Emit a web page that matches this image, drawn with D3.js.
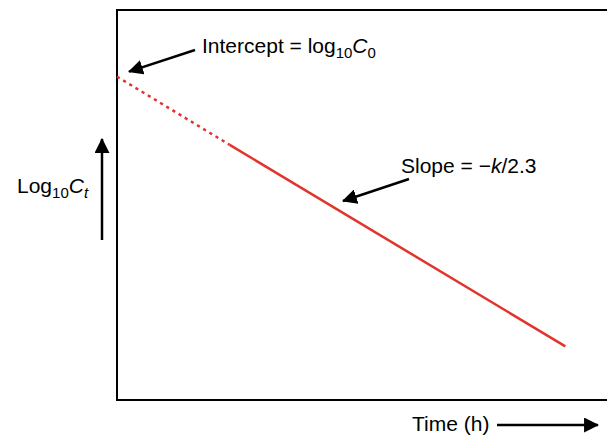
<!DOCTYPE html>
<html lang="en">
<head>
<meta charset="UTF-8">
<script src="https://cdn.jsdelivr.net/npm/d3@7"></script>
<style>
body {
    margin: 0;
    background: #fff;
    font-family: "Liberation Sans", Arial, Helvetica, sans-serif;
}
.frame {
    fill: none;
    stroke: #000;
    stroke-width: 2px;
}
.fit-dotted {
    fill: none;
    stroke: #e3342b;
    stroke-width: 2.5px;
    stroke-dasharray: 3.2, 4;
}
.fit-solid {
    fill: none;
    stroke: #e3342b;
    stroke-width: 2.5px;
}
.arrow {
    stroke: #000;
    stroke-width: 2.5px;
}
text {
    font-size: 21px;
    fill: #000;
}
</style>
</head>
<body>
<div id="chart"></div>
<script>
// time (h) and log10 C values
const timeExtrap = [0, 2.3];       // dotted back-extrapolation to t = 0
const logExtrap = [1.99, 1.57];
const timeObs = [2.3, 9.15];       // solid part of the line
const logObs = [1.57, 0.33];

const W = 607, H = 435;
const margin = {top: 10, right: 0, bottom: 35, left: 117};

const x = d3.scaleLinear().domain([0, 10]).range([margin.left, W - margin.right]);
const y = d3.scaleLinear().domain([0, 2.4]).range([H - margin.bottom, margin.top]);

const svg = d3.select("#chart").append("svg")
    .attr("width", W)
    .attr("height", H);

const defs = svg.append("defs");
defs.append("marker")
    .attr("id", "head")
    .attr("viewBox", "0 0 14 14")
    .attr("refX", 13)
    .attr("refY", 7)
    .attr("markerUnits", "userSpaceOnUse")
    .attr("markerWidth", 15)
    .attr("markerHeight", 15)
    .attr("orient", "auto")
    .append("path")
    .attr("d", "M0,0 L14,7 L0,14 Z")
    .attr("fill", "#000");

// frame: top, left and bottom sides only
const [x0, x1] = x.range();
const [yb, yt] = y.range();
svg.append("path")
    .attr("class", "frame")
    .attr("d", `M${x1},${yt} H${x0} V${yb} H${x1}`);

const line = d3.line().x(d => x(d[0])).y(d => y(d[1]));

svg.append("path")
    .attr("class", "fit-dotted")
    .attr("d", line(d3.zip(timeExtrap, logExtrap)));

svg.append("path")
    .attr("class", "fit-solid")
    .attr("d", line(d3.zip(timeObs, logObs)));

// Intercept annotation
svg.append("line")
    .attr("class", "arrow")
    .attr("x1", 195).attr("y1", 50)
    .attr("x2", x(0) + 12).attr("y2", y(logExtrap[0]) - 5)
    .attr("marker-end", "url(#head)");

const t1 = svg.append("text").attr("x", 202).attr("y", 53);
t1.append("tspan").text("Intercept = log");
t1.append("tspan").attr("dy", 5).style("font-size", "15px").text("10");
t1.append("tspan").attr("dy", -5).style("font-style", "italic").text("C");
t1.append("tspan").attr("dy", 5).style("font-size", "15px").text("0");

// Slope annotation
svg.append("line")
    .attr("class", "arrow")
    .attr("x1", 409).attr("y1", 179)
    .attr("x2", 343).attr("y2", 201)
    .attr("marker-end", "url(#head)");

const t2 = svg.append("text").attr("x", 401).attr("y", 173);
t2.append("tspan").text("Slope = \u2212");
t2.append("tspan").style("font-style", "italic").text("k");
t2.append("tspan").text("/2.3");

// y label with upward arrow
const t3 = svg.append("text").attr("x", 17).attr("y", 193);
t3.append("tspan").text("Log");
t3.append("tspan").attr("dy", 5).style("font-size", "15px").text("10");
t3.append("tspan").attr("dy", -5).style("font-style", "italic").text("C");
t3.append("tspan").attr("dy", 5).style("font-size", "15px").style("font-style", "italic").text("t");

svg.append("line")
    .attr("class", "arrow")
    .attr("x1", 102).attr("y1", 240)
    .attr("x2", 102).attr("y2", 139)
    .attr("marker-end", "url(#head)");

// x label with right arrow
svg.append("text")
    .attr("x", 412).attr("y", 431)
    .text("Time (h)");

svg.append("line")
    .attr("class", "arrow")
    .attr("x1", 497).attr("y1", 425)
    .attr("x2", 598).attr("y2", 425)
    .attr("marker-end", "url(#head)");
</script>
</body>
</html>
